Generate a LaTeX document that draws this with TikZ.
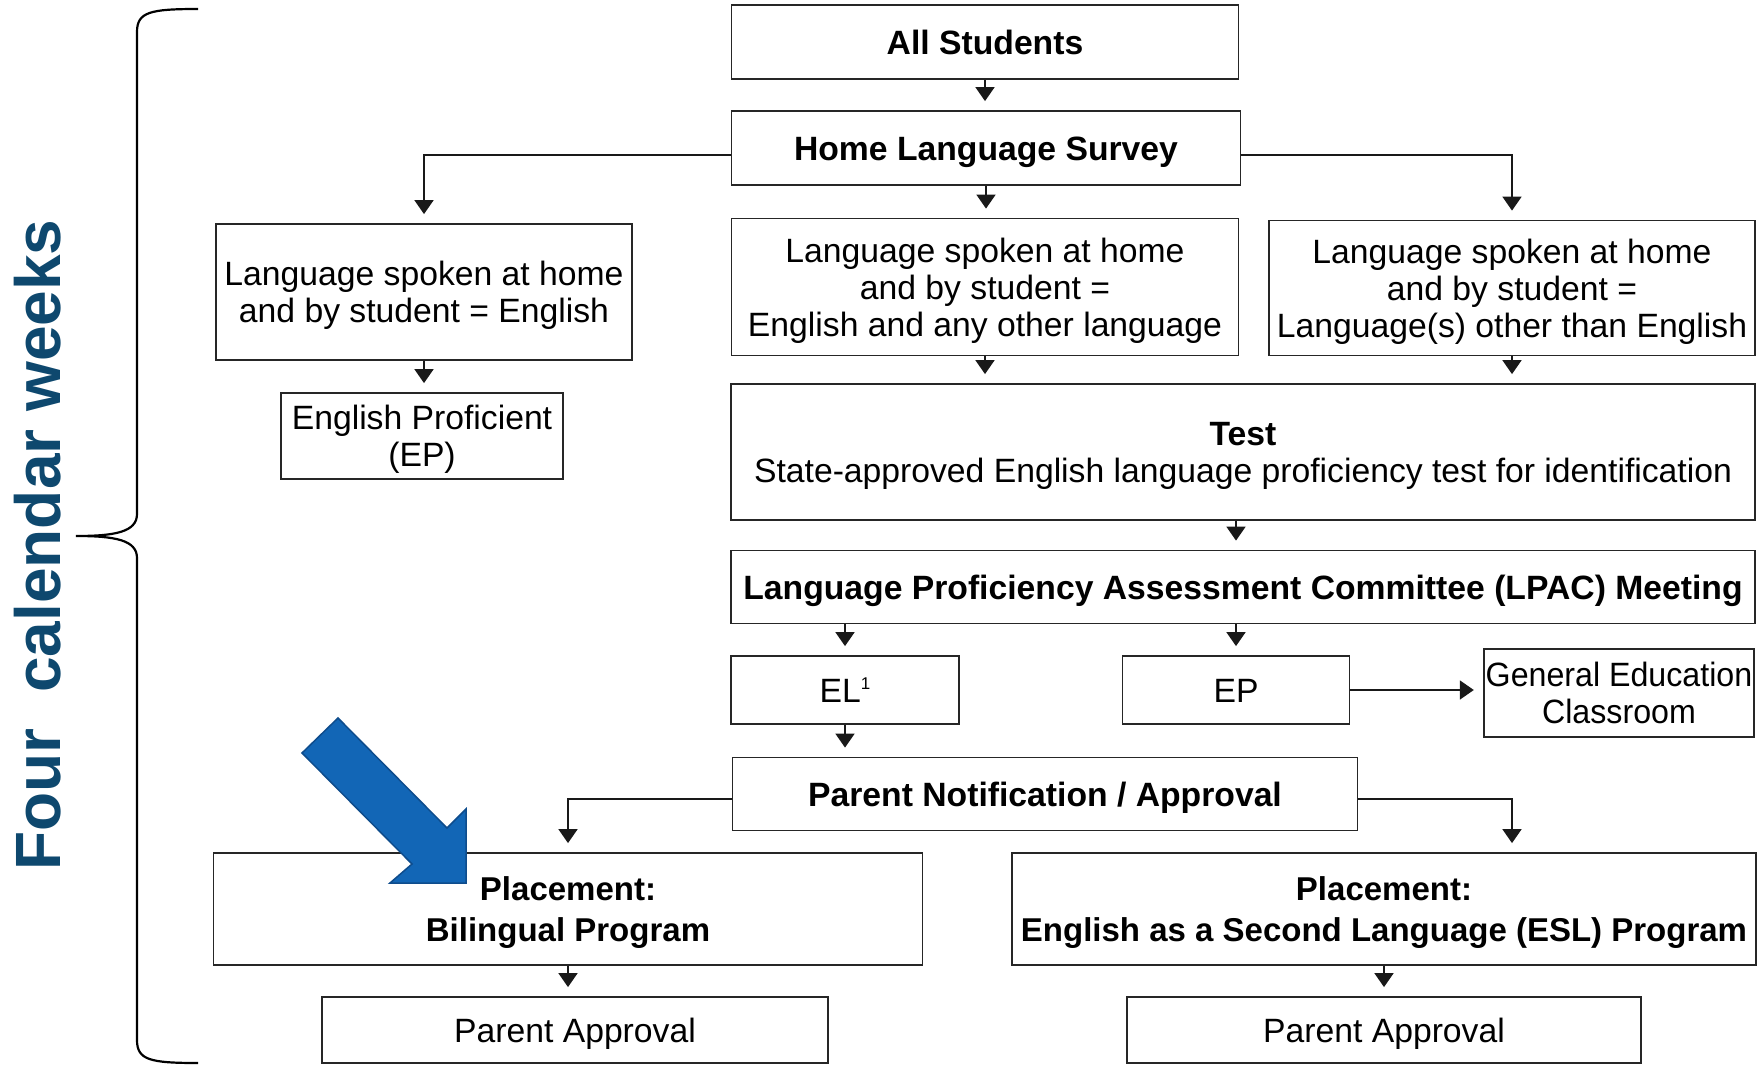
\documentclass[tikz,border=0pt]{standalone}
\usepackage{fontspec}
\setmainfont{Liberation Sans}
\usetikzlibrary{arrows.meta}
\definecolor{weekblue}{RGB}{14,72,110}
\definecolor{arrowblue}{RGB}{18,102,182}
\definecolor{arrowedge}{RGB}{14,76,140}
\newcommand{\linestrut}{\rule[-7.5pt]{0pt}{40.5pt}}
\tikzset{
  flow node/.style={
    draw=black!85,
    line width=1.8pt,
    fill=white,
    align=center,
    inner sep=2pt,
    font=\fontsize{33.7}{37}\selectfont,
    execute at begin node=\linestrut,
    execute at end node=\linestrut,
  },
  multi line/.style={text depth=0pt},
  flow arrow/.style={
    draw=black!90,
    line width=1.8pt,
    -{Triangle[width=19pt,length=14pt]},
    shorten >=9pt,
  },
}

\begin{document}
\begin{tikzpicture}[x=1pt, y=-1pt]
        \useasboundingbox (0,0) rectangle (1762,1065);

        \node[flow node, minimum width=507pt, minimum height=74pt]  (all)    at (985,42)     {\textbf{All Students}};
        \node[flow node, minimum width=509pt, minimum height=74pt]  (hls)    at (986,148)    {\textbf{Home Language Survey}};
        \node[flow node, multi line, minimum width=416pt, minimum height=136pt] (engl)   at (424,292)    {Language spoken at home\\and by student = English};
        \node[flow node, multi line, minimum width=507pt, minimum height=137pt] (both)   at (985,287)    {Language spoken at home\\and by student =\\English and any other language};
        \node[flow node, multi line, minimum width=486pt, minimum height=135pt] (other)  at (1512,288)   {Language spoken at home\\and by student =\\Language(s) other than English};
        \node[flow node, multi line, minimum width=282pt, minimum height=86pt]  (eprof)  at (422,436)    {English Proficient\\(EP)};
        \node[flow node, multi line, minimum width=1024pt, minimum height=136pt] (test)  at (1243,452)   {\textbf{Test}\\State-approved English language proficiency test for identification};
        \node[flow node, minimum width=1024pt, minimum height=73pt] (lpac)   at (1243,587)   {\textbf{Language Proficiency Assessment Committee (LPAC) Meeting}};
        \node[flow node, minimum width=228pt, minimum height=68pt]  (el)     at (845,690)    {EL\raisebox{13pt}{\fontsize{17}{17}\selectfont 1}};
        \node[flow node, minimum width=227pt, minimum height=68pt]  (ep)     at (1236,690)   {EP};
        \node[flow node, multi line, minimum width=270pt, minimum height=88pt, font=\fontsize{33.7}{37}\selectfont\addfontfeatures{FakeStretch=0.955}] (gened) at (1619,693) {General Education\\Classroom};
        \node[flow node, minimum width=625pt, minimum height=73pt]  (pnote)  at (1045,794)   {\textbf{Parent Notification / Approval}};
        \node[flow node, multi line, minimum width=709pt, minimum height=112pt, font=\fontsize{33}{40.5}\selectfont\bfseries] (biling) at (568,909) {Placement:\\Bilingual Program};
        \node[flow node, multi line, minimum width=744pt, minimum height=112pt, font=\fontsize{33}{40.5}\selectfont\bfseries] (esl)    at (1384,909) {Placement:\\English as a Second Language (ESL) Program};
        \node[flow node, minimum width=506pt, minimum height=66pt]  (pleft)  at (575,1030)   {Parent Approval};
        \node[flow node, minimum width=514pt, minimum height=66pt]  (pright) at (1384,1030)  {Parent Approval};

        \draw[flow arrow] (all.south) to (all.south |- hls.north);
        \draw[flow arrow] ([yshift=-7pt]hls.west) -| (engl.north);
        \draw[flow arrow] (hls.south) to (hls.south |- both.north);
        \draw[flow arrow] ([yshift=-7pt]hls.east) -| (other.north);
        \draw[flow arrow] (engl.south) to (engl.south |- eprof.north);
        \draw[flow arrow] (both.south) to (both.south |- test.north);
        \draw[flow arrow] (other.south) to (other.south |- test.north);
        \draw[flow arrow] (test.south -| ep.north) to (lpac.north -| ep.north);
        \draw[flow arrow] (lpac.south -| el.north) to (el.north);
        \draw[flow arrow] (lpac.south -| ep.north) to (ep.north);
        \draw[flow arrow] (ep.east) to (ep.east -| gened.west);
        \draw[flow arrow] (el.south) to (el.south |- pnote.north);
        \draw[flow arrow] ([yshift=-5pt]pnote.west) -| (biling.north);
        \draw[flow arrow] ([yshift=-5pt]pnote.east) -| (esl.north -| other.south);
        \draw[flow arrow] (biling.south) to (biling.south |- pleft.north);
        \draw[flow arrow] (esl.south) to (esl.south |- pright.north);

        \draw[line width=2.2pt] (198,9) .. controls (150,9) and (137,12) .. (137,32)
          -- (137,514) .. controls (137,532) and (115,536) .. (76,536)
          .. controls (115,536) and (137,540) .. (137,558)
          -- (137,1040) .. controls (137,1060) and (150,1063) .. (198,1063);
        \node[rotate=90, text=weekblue, font=\fontsize{64}{64}\selectfont\bfseries] (weeks) at (38,545) {Four\ \ calendar weeks};

        \draw[arrowedge, fill=arrowblue, line width=1.5pt, line join=miter]
          (338,718) -- (302,753) -- (412,864) -- (390,883) -- (466,883) -- (466,809) -- (447,828) -- cycle;
      \end{tikzpicture}
\end{document}
